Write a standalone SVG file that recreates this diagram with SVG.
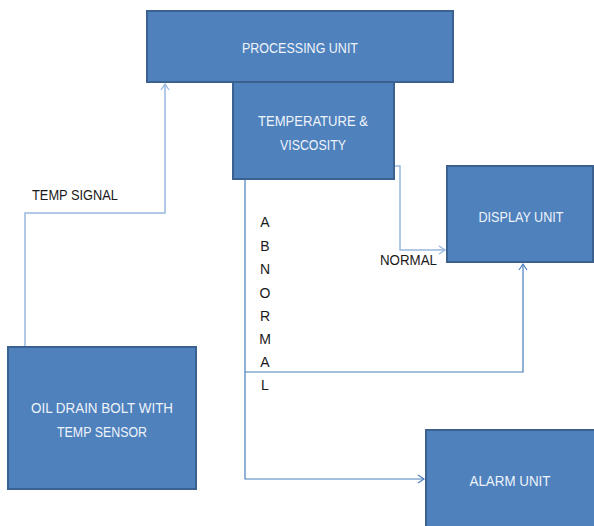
<svg xmlns="http://www.w3.org/2000/svg" width="594" height="526" viewBox="0 0 594 526">
<style>
.box{fill:#4f81bd;stroke:#3b6190;stroke-width:2}
.bt{font-family:"Liberation Sans",Arial,sans-serif;font-size:14.5px;fill:#eef3fa;text-anchor:middle}
.lt{font-family:"Liberation Sans",Arial,sans-serif;font-size:14px;fill:#1a1a1a}
.light{fill:none;stroke:#98b8e0;stroke-width:1.5}
.dark{fill:none;stroke:#4a7ebb;stroke-width:1.2}
</style>
<defs>
<marker id="al" markerWidth="10" markerHeight="10" refX="8" refY="5" orient="auto" markerUnits="userSpaceOnUse">
<path d="M2,1 L8,5 L2,9" fill="none" stroke="#98b8e0" stroke-width="1.3"/>
</marker>
<marker id="ad" markerWidth="10" markerHeight="10" refX="8" refY="5" orient="auto" markerUnits="userSpaceOnUse">
<path d="M2,1 L8,5 L2,9" fill="none" stroke="#4a7ebb" stroke-width="1.2"/>
</marker>
</defs>
<g id="connectors">
<polyline class="light" points="25,348 25,213 165,213 165,84" marker-end="url(#al)"/>
<polyline class="light" points="352,166 400,166 400,250 445,250" stroke-width="2" marker-end="url(#al)"/>
<polyline class="light" points="245,179 245,171" marker-end="url(#al)"/>
<polyline class="dark" points="245,179 245,479 424,479" marker-end="url(#ad)"/>
<polyline class="dark" points="245,372 523,372 523,264" marker-end="url(#ad)"/>
</g>
<g id="processing">
<rect class="box" x="147" y="11" width="306" height="71"/>
<text class="bt" x="300" y="53" textLength="116" lengthAdjust="spacingAndGlyphs">PROCESSING UNIT</text>
</g>
<g id="temperature">
<rect class="box" x="233" y="82" width="161" height="97"/>
<text class="bt" x="313" y="126" textLength="110" lengthAdjust="spacingAndGlyphs">TEMPERATURE &amp;</text>
<text class="bt" x="313" y="150" textLength="66" lengthAdjust="spacingAndGlyphs">VISCOSITY</text>
</g>
<g id="display">
<rect class="box" x="447" y="166" width="146" height="96"/>
<text class="bt" x="521" y="222" textLength="85" lengthAdjust="spacingAndGlyphs">DISPLAY UNIT</text>
</g>
<g id="oil">
<rect class="box" x="8" y="347" width="188" height="142"/>
<text class="bt" x="102" y="413" textLength="142" lengthAdjust="spacingAndGlyphs">OIL DRAIN BOLT WITH</text>
<text class="bt" x="102" y="437" textLength="90" lengthAdjust="spacingAndGlyphs">TEMP SENSOR</text>
</g>
<g id="alarm">
<rect class="box" x="426" y="430" width="172" height="100"/>
<text class="bt" x="510" y="486" textLength="81" lengthAdjust="spacingAndGlyphs">ALARM UNIT</text>
</g>
<g id="labels">
<text class="lt" x="32" y="200" textLength="86" lengthAdjust="spacingAndGlyphs">TEMP SIGNAL</text>
<text class="lt" x="380" y="265" textLength="57" lengthAdjust="spacingAndGlyphs">NORMAL</text>
<g class="lt" text-anchor="middle">
<text x="265" y="227">A</text>
<text x="265" y="251">B</text>
<text x="265" y="274">N</text>
<text x="265" y="298">O</text>
<text x="265" y="321">R</text>
<text x="265" y="344">M</text>
<text x="265" y="367">A</text>
<text x="265" y="390">L</text>
</g>
</g>
</svg>
